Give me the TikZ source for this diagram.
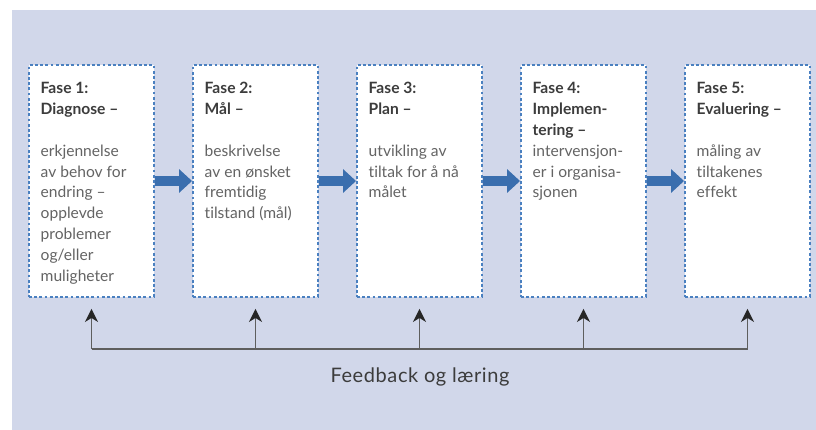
\documentclass[tikz,border=0pt]{standalone}
\usepackage{fontspec}
\setmainfont{Lato}[Ligatures=CommonOff]
\usetikzlibrary{arrows.meta}
\definecolor{bgc}{HTML}{D1D7EA}
\definecolor{boxc}{HTML}{4A80C0}
\definecolor{arrc}{HTML}{3A6EAE}
\definecolor{hdc}{HTML}{3C3C3C}
\definecolor{bdc}{HTML}{646464}
\definecolor{fbc}{HTML}{5E5E5E}
\tikzset{
  phasebox/.style={draw=boxc, fill=white, line width=1.9pt, dash pattern=on 2.8pt off 2.4pt,
    minimum width=125pt, minimum height=232pt, inner sep=0pt},
  hdtext/.style={anchor=base west, inner sep=0pt, text=hdc, font=\fontsize{15.6}{20.8}\selectfont\bfseries},
  bdtext/.style={anchor=base west, inner sep=0pt, text=bdc, font=\fontsize{15.6}{20.8}\selectfont},
  bigarrow/.style={draw=arrc, line width=10pt, -{Triangle[length=13pt,width=23pt]}, shorten <=0.5pt},
  fbline/.style={draw=fbc, line width=1.5pt},
  fbarrow/.style={draw=fbc, line width=1.5pt, -{Stealth[length=13pt,width=13pt,inset=4pt,fill=black!85,color=black!85]}},
}
\begin{document}
\begin{tikzpicture}[x=1pt,y=-1pt]
\useasboundingbox (0,0) rectangle (816,430);
\fill[bgc] (12,10) rectangle (816,430);
\foreach \k in {1,...,5}{
  \node[phasebox] (b\k) at ({91.5+164*(\k-1)},181) {};
}
\foreach \k/\hd/\bd in {
  1/{Fase 1:,Diagnose –}/{erkjennelse,av behov for,endring –,opplevde,problemer,og/eller,muligheter},
  2/{Fase 2:,Mål –}/{beskrivelse,av en ønsket,fremtidig,tilstand (mål)},
  3/{Fase 3:,Plan –}/{utvikling av,tiltak for å nå,målet},
  4/{Fase 4:,Implemen-,tering –}/{intervensjon-,er i organisa-,sjonen},
  5/{Fase 5:,Evaluering –}/{måling av,tiltakenes,effekt}}{
  \foreach \l [count=\j] in \hd {
    \node[hdtext] (h\k-\j) at ({40.5+164*(\k-1)},{94+20.8*(\j-1)}) {\l};
  }
  \foreach \l [count=\j] in \bd {
    \node[bdtext] (d\k-\j) at ({40.5+164*(\k-1)},{156.4+20.8*(\j-1)}) {\l};
  }
}
\foreach \k [count=\n from 2] in {1,...,4}{
  \draw[bigarrow] (b\k.east) -- (b\n.west);
}
\foreach \k in {1,...,5}{
  \coordinate (f\k) at ({91.5+164*(\k-1)},349);
  \draw[fbarrow] (f\k) -- ([yshift=-11pt]b\k.south);
}
\draw[fbline] (f1) -- (f5);
\node[anchor=base, inner sep=0pt, text=hdc, font=\fontsize{20}{24}\selectfont\addfontfeatures{LetterSpace=3}] (fbl) at (420,382.7) {Feedback og læring};
\end{tikzpicture}
\end{document}
